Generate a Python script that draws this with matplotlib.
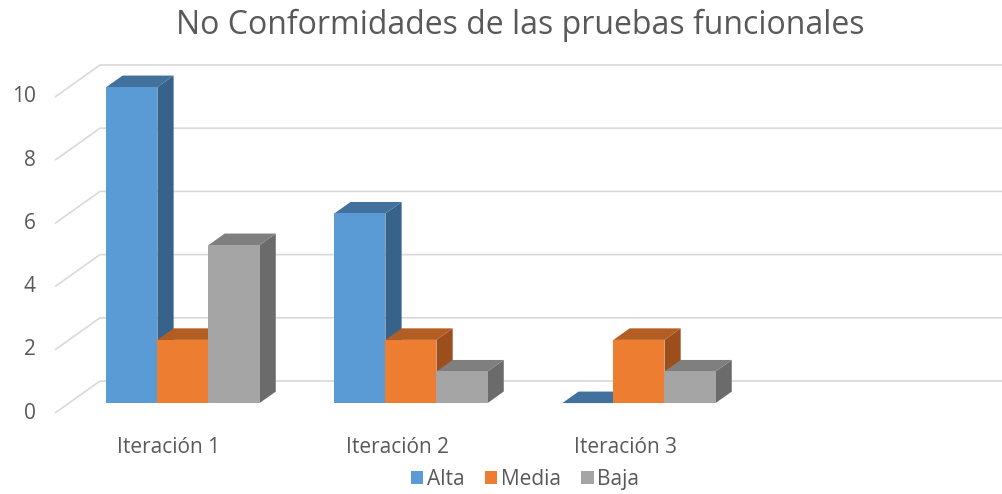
import numpy as np
import matplotlib.pyplot as plt
from matplotlib.patches import Polygon, Patch

plt.rcParams['font.family'] = ['Open Sans', 'DejaVu Sans']

categories = ['Iteración 1', 'Iteración 2', 'Iteración 3', '']
series = ['Alta', 'Media', 'Baja']
alta = [10, 6, 0, np.nan]
media = [2, 2, 2, np.nan]
baja = [5, 1, 1, np.nan]
yticks = [0, 2, 4, 6, 8, 10]

# front / top / side colours for each series
colors = {
    'Alta': ('#5B9BD5', '#41719C', '#37628A'),
    'Media': ('#ED7D31', '#B35D22', '#9C4F1C'),
    'Baja': ('#A5A5A5', '#7F7F7F', '#6B6B6B'),
}
text_color = '#595959'
grid_color = '#D9D9D9'

# oblique "3D" offset of the back wall, in data units
DX = 45 / 228
DY = 32 / 31.6
bar_w = 0.224
d_front, d_back = 0.31, 0.67


def proj(x, v, d):
    return (x + d * DX, v + d * DY)


fig = plt.figure(figsize=(10.02, 4.94), dpi=100)
ax = fig.add_axes([0, 0, 1, 1])
ax.set_xlim(-0.5 - 55 / 228, -0.5 + 947 / 228)
ax.set_ylim(-81 / 31.6, 413 / 31.6)
ax.axis('off')

n = len(categories)
left, right = -0.5, n - 0.5

# gridlines: diagonal on the left wall then horizontal along the back wall
for v in yticks:
    p0 = proj(left, v, 0)
    p1 = proj(left, v, 1)
    p2 = proj(right, v, 1)
    ax.plot([p0[0], p1[0], p2[0]], [p0[1], p1[1], p2[1]],
            color=grid_color, lw=1.2, zorder=1, solid_capstyle='butt')
    ax.text(left - 0.085, v, str(v), ha='right', va='center',
            fontsize=15, color=text_color)

values = [alta, media, baja]
for i, cat in enumerate(categories):
    for j, name in enumerate(series):
        h = values[j][i]
        if np.isnan(h):
            continue
        x0 = i - 1.5 * bar_w + j * bar_w
        x1 = x0 + bar_w
        fc, tc, sc = colors[name]
        front = [proj(x0, 0, d_front), proj(x1, 0, d_front),
                 proj(x1, h, d_front), proj(x0, h, d_front)]
        side = [proj(x1, 0, d_front), proj(x1, 0, d_back),
                proj(x1, h, d_back), proj(x1, h, d_front)]
        top = [proj(x0, h, d_front), proj(x1, h, d_front),
               proj(x1, h, d_back), proj(x0, h, d_back)]
        z = 2 + i * 3 + j
        ax.add_patch(Polygon(side, closed=True, fc=sc, ec='none', zorder=z))
        ax.add_patch(Polygon(top, closed=True, fc=tc, ec='none', zorder=z))
        if h > 0:
            ax.add_patch(Polygon(front, closed=True, fc=fc, ec='none', zorder=z))
    if cat:
        ax.text(i, -1.1, cat, ha='center', va='center',
                fontsize=15, color=text_color)

fig.text(520 / 1002, 1 - 25 / 494, 'No Conformidades de las pruebas funcionales',
         ha='center', va='center', fontsize=23, color=text_color)

handles = [Patch(facecolor=colors[s][0], label=s) for s in series]
fig.legend(handles=handles, loc='center', bbox_to_anchor=(525 / 1002, 1 - 479 / 494),
           ncol=3, frameon=False, fontsize=15, handlelength=0.6, handleheight=0.6,
           handletextpad=0.15, columnspacing=1.0, labelcolor=text_color)

fig.savefig('out.png', dpi=100)
